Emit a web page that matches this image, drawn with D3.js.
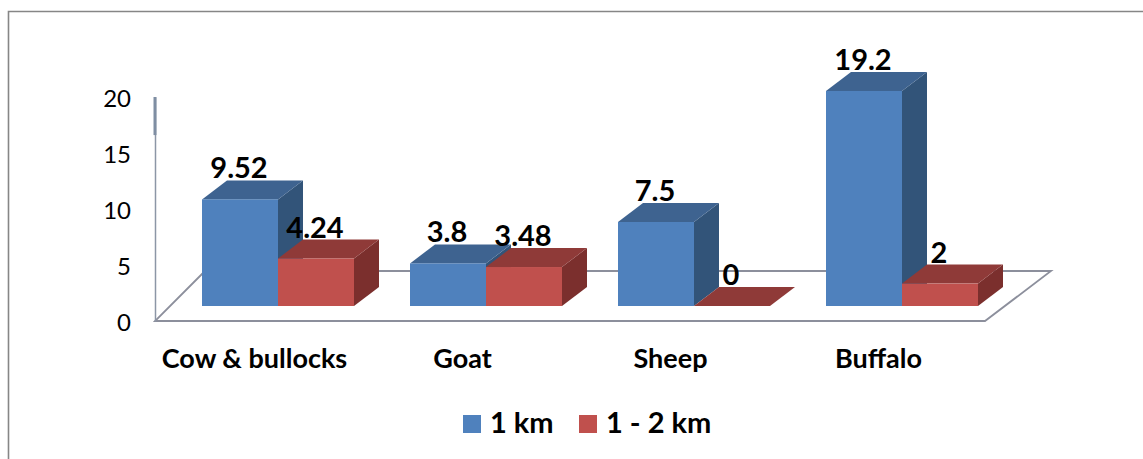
<!DOCTYPE html>
<html>
<head>
<meta charset="utf-8">
<script src="https://cdn.jsdelivr.net/npm/d3@7"></script>
<style>
html,body{margin:0;padding:0;background:#fff}
svg{display:block}
text{font-family:Lato,"Open Sans",sans-serif;fill:#000}
</style>
</head>
<body>
<script>
const categories = ["Cow & bullocks", "Goat", "Sheep", "Buffalo"];
const seriesNames = ["1 km", "1 - 2 km"];
const oneKm = [9.52, 3.8, 7.5, 19.2];
const oneToTwoKm = [4.24, 3.48, 0, 2];
const valueTicks = [0, 5, 10, 15, 20];

const W = 1143, H = 459;
const svg = d3.select("body").append("svg").attr("width", W).attr("height", H);

// chart frame: only the top and left edges are visible
svg.append("path").attr("d", `M8.5,${H}V11.5H${W}`)
  .attr("fill", "none").attr("stroke", "#868686").attr("stroke-width", 1.6);

const y = d3.scaleLinear().domain([0, 20]).range([321, 97]);
const x0 = d3.scaleBand().domain(categories).range([174, 1006]).paddingInner(56 / 208).paddingOuter(28 / 208);
const x1 = d3.scaleBand().domain(seriesNames).range([0, x0.bandwidth()]);

// projection of the third dimension
const depthX = 25, depthY = -19, floorLift = 15;

// floor of the 3D plot
const floor = [[155, 321], [985, 321], [1051, 271], [205, 271]];
svg.append("path")
  .attr("d", `M${floor[3]}L${floor[0]}L${floor[1]}L${floor[2]}L${floor[3]}`)
  .attr("fill", "none").attr("stroke", "#8c8f9c").attr("stroke-width", 1.8);

// value axis
const yAxis = d3.axisLeft(y).tickValues(valueTicks).tickSize(0).tickPadding(24);
const axisG = svg.append("g").attr("transform", "translate(155,0)").call(yAxis);
axisG.select(".domain").attr("stroke", "#8c96a6").attr("stroke-width", 1.5);
axisG.selectAll("text").style("font-size", "24px").attr("dy", "0.15em").attr("dominant-baseline", "middle");
svg.append("line").attr("x1", 155).attr("x2", 155).attr("y1", y(20)).attr("y2", y(16.6))
  .attr("stroke", "#7f8ea3").attr("stroke-width", 3);

const colours = {
  "1 km": {front: "#4f81bd", top: "#3e6390", side: "#325479"},
  "1 - 2 km": {front: "#c0504d", top: "#8f3a38", side: "#7b2f2d"}
};
const series = [
  {name: seriesNames[0], values: oneKm},
  {name: seriesNames[1], values: oneToTwoKm}
];

const bars = [];
series.forEach(s => s.values.forEach((v, i) => bars.push({name: s.name, cat: categories[i], v})));

const barG = svg.selectAll("g.bar").data(bars).join("g").attr("class", "bar");
barG.each(function(d) {
  const g = d3.select(this);
  const c = colours[d.name];
  const xl = x0(d.cat) + x1(d.name), xr = xl + x1.bandwidth();
  const base = y(0) - floorLift, top = y(d.v) - floorLift;
  g.append("path").attr("fill", c.side)
    .attr("d", `M${xr},${top}L${xr + depthX},${top + depthY}L${xr + depthX},${base + depthY}L${xr},${base}Z`);
  g.append("path").attr("fill", c.top)
    .attr("d", `M${xl},${top}L${xl + depthX},${top + depthY}L${xr + depthX},${top + depthY}L${xr},${top}Z`);
  g.append("rect").attr("x", xl).attr("y", top).attr("width", x1.bandwidth()).attr("height", base - top)
    .attr("fill", c.front);
});

// value labels sit above the top face of each bar
svg.selectAll("text.value").data(bars).join("text").attr("class", "value")
  .attr("x", d => x0(d.cat) + x1(d.name) + x1.bandwidth() / 2 - 1)
  .attr("y", d => y(d.v) - floorLift + depthY - 2)
  .attr("text-anchor", "middle")
  .style("font-size", "29px").style("font-weight", 700)
  .text(d => d.v);

// category labels
svg.selectAll("text.cat").data(categories).join("text").attr("class", "cat")
  .attr("x", d => x0(d) + x0.bandwidth() / 2 - 23.5)
  .attr("y", 368)
  .attr("text-anchor", "middle")
  .style("font-size", "27px").style("font-weight", 700)
  .text(d => d);

// legend
const legendX = {"1 km": 463, "1 - 2 km": 579};
const legend = svg.selectAll("g.legend").data(seriesNames).join("g").attr("class", "legend")
  .attr("transform", d => `translate(${legendX[d]},415)`);
legend.append("rect").attr("width", 18).attr("height", 18).attr("fill", d => colours[d].front);
legend.append("text").attr("x", 27).attr("y", 18)
  .style("font-size", "29px").style("font-weight", 700).text(d => d);
</script>
</body>
</html>
